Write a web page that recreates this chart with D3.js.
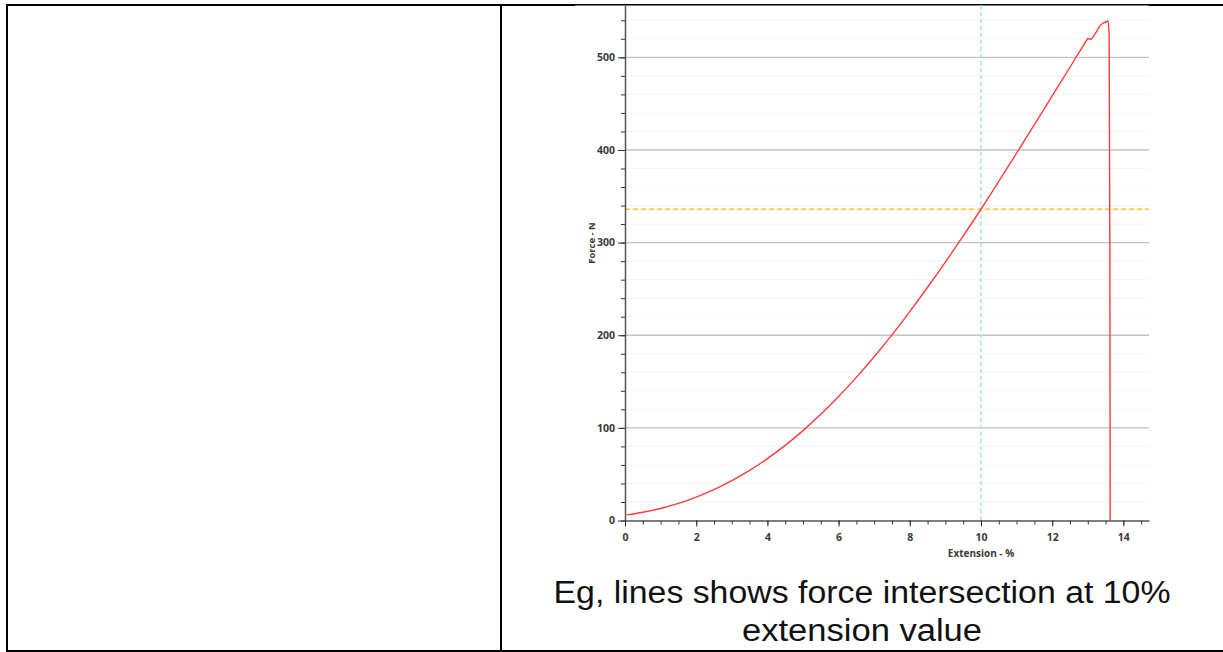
<!DOCTYPE html>
<html>
<head>
<meta charset="utf-8">
<script src="https://cdn.jsdelivr.net/npm/d3@7/dist/d3.min.js"></script>
<style>
  html, body { margin: 0; padding: 0; background: #fff; }
  svg { display: block; }
  .tick text { font-family: "Open Sans", "Noto Sans", sans-serif; font-weight: 700; fill: #3a3a3a; }
</style>
</head>
<body>
<svg id="page" width="1223" height="652"></svg>
<script>
// Tensile test record: extension (%) against force (N)
const extension = [0.05, 0.5, 1, 1.5, 2, 2.5, 3, 3.5, 4, 4.5, 5, 5.5, 6, 6.5, 7, 7.5, 8, 8.5, 9, 9.5,
  10, 10.5, 11, 11.5, 12, 12.5, 12.9, 12.97, 13.0, 13.08, 13.2, 13.39, 13.44, 13.53, 13.57, 13.6, 13.62, 13.63];
const force = [6, 8.9, 13, 18.4, 25.3, 33.4, 43, 54.1, 66.8, 81.1, 97, 114.6, 133.8, 154.5, 176.8, 200.4, 225.5, 251.8, 279, 307.2,
  336, 366, 396.5, 427.3, 458.3, 489.3, 514.3, 518.6, 520.5, 519.5, 525, 536, 537, 538.5, 539.5, 525, 300, 0];

const xTicks = [0, 2, 4, 6, 8, 10, 12, 14];
const yTicks = [0, 100, 200, 300, 400, 500];
const xMinorTicks = d3.range(0, 14.75, 0.5);
const yMinorTicks = d3.range(0, 560, 20);

// Reference extension marked on the chart and the force read at that point
const refExtension = 10;
const refForce = force[extension.indexOf(refExtension)];

const caption = ["Eg, lines shows force intersection at 10%", "extension value"];

const svg = d3.select("#page");

// ---- table cell borders ----
const border = svg.append("g").attr("stroke", "#000").attr("stroke-width", 2);
border.append("line").attr("x1", 6).attr("x2", 1223).attr("y1", 5).attr("y2", 5);
border.append("line").attr("x1", 7).attr("x2", 7).attr("y1", 4).attr("y2", 652);
border.append("line").attr("x1", 501).attr("x2", 501).attr("y1", 4).attr("y2", 652);
border.append("line").attr("x1", 6).attr("x2", 1223).attr("y1", 651).attr("y2", 651);

// chart picture background sitting over the upper border
svg.append("rect").attr("x", 575).attr("y", 5.5).attr("width", 574).attr("height", 560).attr("fill", "#fff");

// ---- chart ----
const x = d3.scaleLinear().domain([0, 14.72]).range([625, 1149]);
const y = d3.scaleLinear().domain([0, 556.5]).range([520.5, 5]);

// minor gridlines
svg.append("g").selectAll("line").data(yMinorTicks.filter(v => v % 100 !== 0)).join("line")
  .attr("x1", x(0)).attr("x2", x(14.72))
  .attr("y1", d => y(d)).attr("y2", d => y(d))
  .attr("stroke", "#ebebeb").attr("stroke-width", 1).attr("stroke-dasharray", "1,1");

// major gridlines
svg.append("g").selectAll("line").data(yTicks.filter(v => v > 0)).join("line")
  .attr("x1", x(0)).attr("x2", x(14.72))
  .attr("y1", d => y(d)).attr("y2", d => y(d))
  .attr("stroke", "#c2c2c2").attr("stroke-width", 1.4);

// reference lines
svg.append("line")
  .attr("x1", x(refExtension)).attr("x2", x(refExtension))
  .attr("y1", y(556.5)).attr("y2", y(0))
  .attr("stroke", "#a9dcef").attr("stroke-width", 1.5).attr("stroke-dasharray", "4,3");
svg.append("line")
  .attr("x1", x(0)).attr("x2", x(14.72))
  .attr("y1", y(refForce)).attr("y2", y(refForce))
  .attr("stroke", "#ffbc3a").attr("stroke-width", 1.3).attr("stroke-dasharray", "5,3");

// force-extension curve
const line = d3.line()
  .x((d, i) => x(extension[i]))
  .y(d => y(d))
  .curve(d3.curveMonotoneX);
svg.append("path").datum(force)
  .attr("d", line)
  .attr("fill", "none")
  .attr("stroke", "#ff3b3b")
  .attr("stroke-width", 1.4)
  .attr("stroke-linejoin", "round");

// axes
const yMinorAxis = svg.append("g").attr("transform", `translate(${x(0)},0)`)
  .call(d3.axisLeft(y).tickValues(yMinorTicks).tickSize(4).tickFormat(""));
yMinorAxis.select(".domain").remove();
yMinorAxis.selectAll("line").attr("stroke", "#333");

const yAxis = svg.append("g").attr("transform", `translate(${x(0)},0)`)
  .call(d3.axisLeft(y).tickValues(yTicks).tickSize(7).tickPadding(3).tickSizeOuter(0));
yAxis.select(".domain").attr("stroke", "#555").attr("stroke-width", 1.5);
yAxis.selectAll("line").attr("stroke", "#333");
yAxis.selectAll("text").attr("font-size", 10.5);

const xMinorAxis = svg.append("g").attr("transform", `translate(0,${y(0)})`)
  .call(d3.axisBottom(x).tickValues(xMinorTicks).tickSize(4).tickFormat(""));
xMinorAxis.select(".domain").remove();
xMinorAxis.selectAll("line").attr("stroke", "#333");

const xAxis = svg.append("g").attr("transform", `translate(0,${y(0)})`)
  .call(d3.axisBottom(x).tickValues(xTicks).tickSize(6).tickPadding(7).tickSizeOuter(0));
xAxis.select(".domain").attr("stroke", "#555").attr("stroke-width", 1.5);
xAxis.selectAll("line").attr("stroke", "#333");
xAxis.selectAll("text").attr("font-size", 10.5);

// axis titles
svg.append("text")
  .attr("x", 981).attr("y", 557)
  .attr("text-anchor", "middle")
  .attr("font-family", "Open Sans, Noto Sans, sans-serif")
  .attr("font-weight", 700).attr("font-size", 10).attr("fill", "#3a3a3a")
  .text("Extension - %");
svg.append("text")
  .attr("transform", "translate(595,243) rotate(-90)")
  .attr("text-anchor", "middle")
  .attr("font-family", "Open Sans, Noto Sans, sans-serif")
  .attr("font-weight", 700).attr("font-size", 9.5).attr("fill", "#3a3a3a")
  .text("Force - N");

// caption under the chart
const captionWidths = [617, 240];
svg.append("g").selectAll("text").data(caption).join("text")
  .attr("x", 862)
  .attr("y", (d, i) => 603 + i * 38)
  .attr("text-anchor", "middle")
  .attr("font-family", "Liberation Sans, Arial, sans-serif")
  .attr("font-size", 31)
  .attr("fill", "#111")
  .attr("textLength", (d, i) => captionWidths[i])
  .attr("lengthAdjust", "spacingAndGlyphs")
  .text(d => d);
</script>
</body>
</html>
